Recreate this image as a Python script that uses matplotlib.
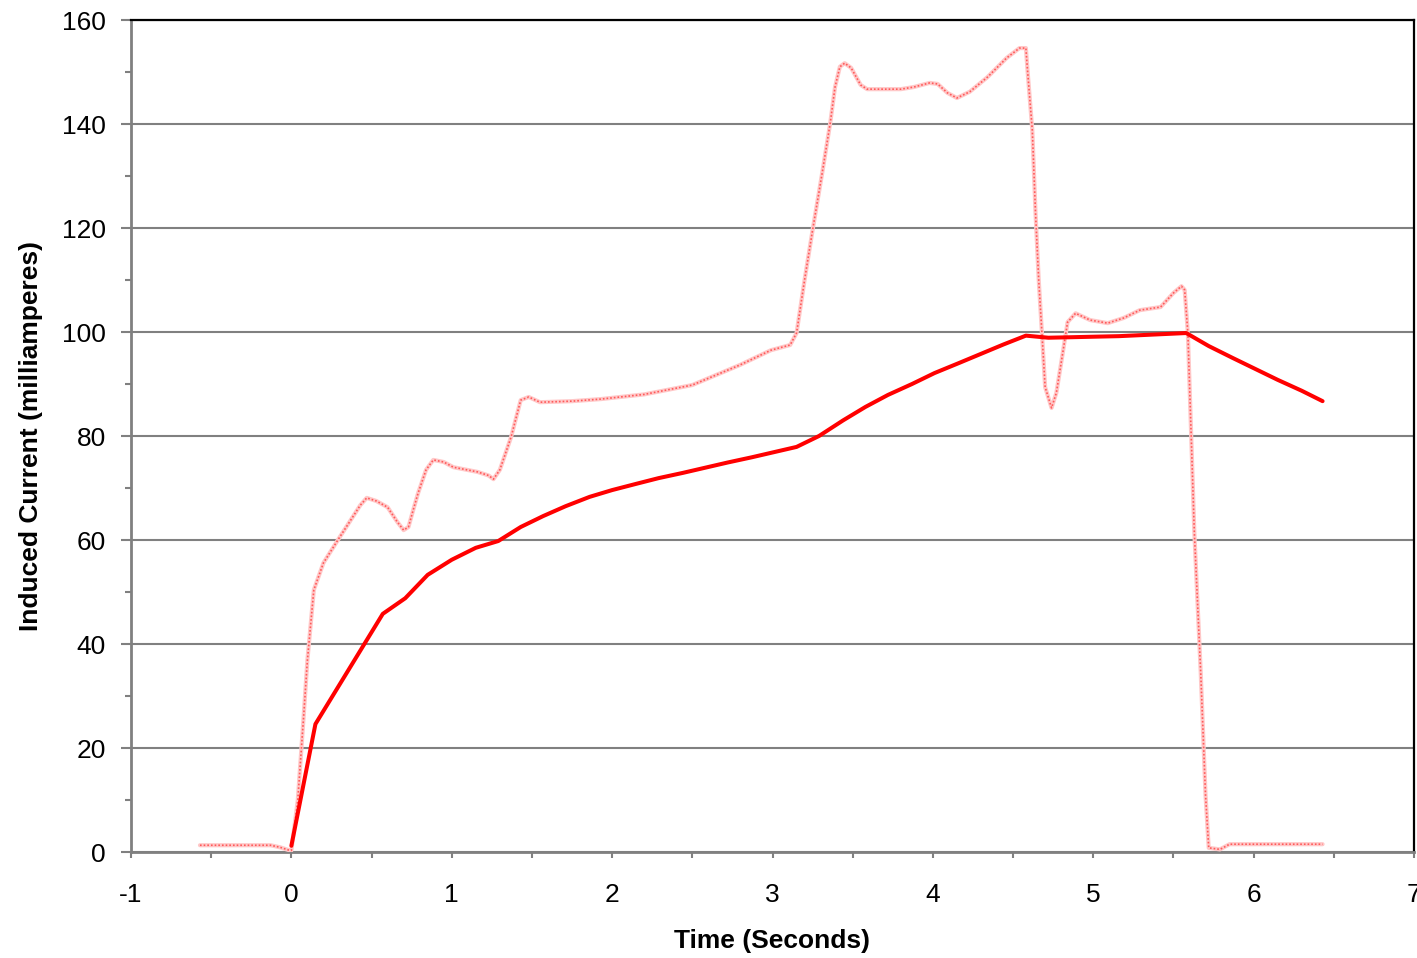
import numpy as np
import matplotlib
matplotlib.use("Agg")
import matplotlib.pyplot as plt
from matplotlib.ticker import MultipleLocator

plt.rcParams["font.family"] = ["Liberation Sans", "DejaVu Sans"]
plt.rcParams["axes.unicode_minus"] = False

# ---- data ----
# smoothed induced current (solid line)
t_smooth = [0.0, 0.15, 0.57, 0.71, 0.85, 1.0, 1.15, 1.29, 1.43, 1.57, 1.71, 1.86,
            2.0, 2.15, 2.29, 2.44, 2.58, 2.72, 2.87, 3.01, 3.15, 3.29, 3.44, 3.58,
            3.72, 3.87, 4.01, 4.16, 4.30, 4.44, 4.58, 4.72, 4.87, 5.01, 5.16, 5.30,
            5.44, 5.58, 5.72, 5.87, 6.01, 6.15, 6.30, 6.43]
i_smooth = [1.2, 24.6, 45.8, 48.8, 53.3, 56.2, 58.5, 59.8, 62.5, 64.6, 66.5, 68.3,
            69.6, 70.8, 71.9, 72.9, 73.9, 74.9, 75.9, 76.9, 77.9, 80.0, 83.0, 85.6,
            87.9, 90.0, 92.1, 94.0, 95.8, 97.6, 99.3, 98.9, 99.0, 99.1, 99.2, 99.4,
            99.6, 99.8, 97.3, 95.0, 92.9, 90.8, 88.7, 86.7]

# raw induced current (dotted line)
t_raw = [-0.57, -0.35, -0.13, -0.07, -0.02, 0.0, 0.04, 0.075, 0.10, 0.14, 0.20,
         0.29, 0.43, 0.47, 0.53, 0.60, 0.66, 0.70, 0.73, 0.76, 0.79, 0.84, 0.885,
         0.95, 1.01, 1.16, 1.23, 1.26, 1.30, 1.37, 1.43, 1.48, 1.55, 1.75, 1.93,
         2.2, 2.5, 2.8, 2.99, 3.11, 3.15, 3.2, 3.25, 3.31, 3.36, 3.39, 3.42, 3.45,
         3.49, 3.55, 3.59, 3.67, 3.80, 3.88, 3.98, 4.03, 4.09, 4.15, 4.23, 4.34,
         4.46, 4.54, 4.58, 4.59, 4.62, 4.64, 4.66, 4.68, 4.70, 4.74, 4.77, 4.81,
         4.84, 4.89, 4.98, 5.09, 5.19, 5.29, 5.42, 5.50, 5.55, 5.57, 5.59, 5.63,
         5.67, 5.70, 5.72, 5.79, 5.85, 6.1, 6.43]
i_raw = [1.3, 1.3, 1.3, 0.9, 0.4, 0.3, 10.0, 25.4, 36.9, 50.4, 55.6,
         60.0, 66.7, 68.1, 67.5, 66.3, 63.5, 61.9, 62.5, 65.8, 69.0, 73.5, 75.4,
         75.0, 74.0, 73.1, 72.4, 71.7, 73.5, 79.8, 86.9, 87.5, 86.5, 86.7, 87.1,
         88.0, 89.8, 93.7, 96.5, 97.5, 99.8, 110.0, 119.6, 130.6, 140.2, 147.1, 151.0, 151.7,
         150.8, 147.5, 146.7, 146.7, 146.7, 147.1, 147.9, 147.7, 146.0, 145.0, 146.2, 149.0,
         152.7, 154.6, 154.6, 150.4, 138.8, 122.9, 110.0, 99.8, 89.4, 85.4, 88.3, 96.0,
         101.9, 103.6, 102.3, 101.7, 102.7, 104.2, 104.8, 107.5, 108.8, 108.1, 99.8, 61.7,
         34.6, 11.0, 0.8, 0.5, 1.5, 1.5, 1.5]

W, H = 1417, 958
fig = plt.figure(figsize=(W / 100, H / 100), dpi=100)
ax = fig.add_axes([131 / W, 1 - 852 / H, (1414 - 131) / W, (852 - 20) / H])

# dotted raw trace: pale band with darker dots on top
ax.plot(t_raw, i_raw, color="#ffc8c8", linewidth=3.0, zorder=3,
        solid_joinstyle="round", solid_capstyle="round")
ax.plot(t_raw, i_raw, color="#ff5a5a", linewidth=1.2, linestyle=(0, (1, 1.2)),
        zorder=4)
# smoothed trace
ax.plot(t_smooth, i_smooth, color="#ff0000", linewidth=2.9, zorder=5,
        solid_joinstyle="round", solid_capstyle="round")

ax.set_xlim(-1, 7)
ax.set_ylim(0, 160)
ax.xaxis.set_major_locator(MultipleLocator(1))
ax.xaxis.set_minor_locator(MultipleLocator(0.5))
ax.yaxis.set_major_locator(MultipleLocator(20))
ax.yaxis.set_minor_locator(MultipleLocator(10))

ax.grid(axis="y", which="major", color="#808080", linewidth=1.5, zorder=1)
ax.set_axisbelow(True)

for side in ("left", "bottom"):
    ax.spines[side].set_color("#808080")
    ax.spines[side].set_linewidth(2.0)
for side in ("top", "right"):
    ax.spines[side].set_color("black")
    ax.spines[side].set_linewidth(1.6)

ax.tick_params(axis="y", which="major", direction="out", length=7, width=1.5,
               color="#808080", pad=11, labelsize=19)
ax.tick_params(axis="y", which="minor", direction="out", length=4, width=1.5,
               color="#808080")
ax.tick_params(axis="x", which="both", direction="out", length=4, width=1.5,
               color="#808080", pad=18, labelsize=19)

ax.set_xlabel("Time (Seconds)", fontsize=19, fontweight="bold", labelpad=16)
ax.set_ylabel("Induced Current (milliamperes)", fontsize=19, fontweight="bold",
              labelpad=14)

fig.savefig("out.png", dpi=100)
